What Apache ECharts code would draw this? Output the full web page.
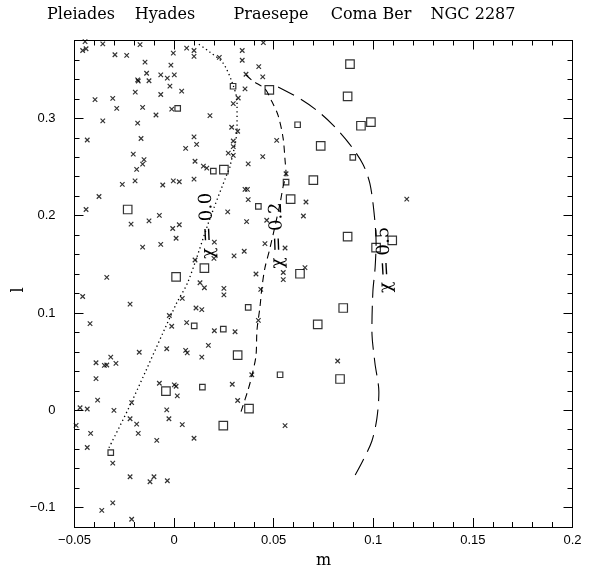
<!DOCTYPE html>
<html>
<head>
<meta charset="utf-8">
<script src="https://cdn.jsdelivr.net/npm/echarts@6/dist/echarts.min.js"></script>
<style>html,body{margin:0;padding:0;background:#fff}#c{width:597px;height:574px}</style>
</head>
<body>
<div id="c"></div>
<script>
// ---- data ----
const clusterNames = ['Pleiades', 'Hyades', 'Praesepe', 'Coma Ber', 'NGC 2287'];
const xTicks = [-0.05, 0, 0.05, 0.1, 0.15, 0.2];
const yTicks = [-0.1, 0, 0.1, 0.2, 0.3];

const crossM = [-0.0447,-0.0459,-0.0442,-0.0358,-0.0171,-0.0297,-0.0238,-0.0004,0.0063,0.0100,0.0100,0.0227,0.0342,0.0342,-0.0146,-0.0016,-0.0138,-0.0067,-0.0034,0.0001,-0.0183,-0.0180,-0.0126,0.0361,-0.0021,0.0356,-0.0195,-0.0067,0.0038,0.0322,-0.0397,-0.0308,-0.0288,-0.0158,-0.0012,0.0297,-0.0358,-0.0091,0.0180,-0.0183,0.0289,0.0319,-0.0436,-0.0166,0.0100,0.0113,0.0058,0.0297,0.0297,-0.0205,-0.0151,-0.0158,-0.0188,0.0105,0.0147,0.0164,0.0272,0.0297,0.0372,-0.0260,-0.0196,-0.0057,-0.0004,0.0026,0.0100,0.0356,0.0368,0.0372,-0.0377,-0.0442,-0.0074,-0.0216,-0.0126,-0.0007,0.0026,0.0269,0.0364,0.0010,-0.0158,-0.0067,0.0202,0.0105,0.0200,0.0301,0.0352,-0.0338,0.0130,0.0152,0.0250,0.0250,-0.0459,-0.0221,0.0041,0.0110,0.0139,-0.0024,-0.0012,0.0063,0.0202,0.0306,-0.0422,-0.0175,-0.0037,0.0058,0.0066,0.0172,0.0139,-0.0392,-0.0318,-0.0350,-0.0338,-0.0292,-0.0392,-0.0074,0.0001,0.0010,0.0016,0.0292,-0.0384,-0.0472,-0.0436,-0.0213,-0.0302,-0.0037,-0.0026,-0.0221,-0.0188,0.0041,0.0319,-0.0492,-0.0419,-0.0180,-0.0087,0.0100,-0.0436,-0.0308,-0.0221,-0.0121,-0.0101,-0.0034,-0.0363,-0.0308,-0.0213,0.0448,0.0425,0.0445,0.0515,0.0445,0.0562,0.0662,0.0649,0.0465,0.1168,0.0456,0.0557,0.0411,0.0548,0.0548,0.0657,0.0435,0.0423,0.0390,0.0557,0.0821];
const crossL = [0.3788,0.3697,0.3715,0.3765,0.3758,0.3654,0.3647,0.3671,0.3722,0.3697,0.3637,0.3627,0.3697,0.3597,0.3577,0.3547,0.3463,0.3446,0.3413,0.3446,0.3396,0.3384,0.3386,0.3453,0.3331,0.3303,0.3269,0.3245,0.3280,0.3209,0.3192,0.3205,0.3102,0.3112,0.3095,0.3152,0.2974,0.3034,0.3028,0.2951,0.2908,0.2867,0.2777,0.2793,0.2810,0.2733,0.2692,0.2767,0.2710,0.2632,0.2576,0.2529,0.2475,0.2559,0.2509,0.2488,0.2642,0.2619,0.2532,0.2321,0.2358,0.2315,0.2358,0.2348,0.2375,0.2270,0.2270,0.2164,0.2197,0.2063,0.2003,0.1913,0.1946,0.1868,0.1906,0.2039,0.1939,0.1768,0.1677,0.1705,0.1728,0.1544,0.1561,0.1587,0.1634,0.1366,0.1310,0.1259,0.1252,0.1185,0.1169,0.1091,0.1149,0.1051,0.1034,0.0974,0.0863,0.0900,0.0817,0.0807,0.0890,0.0596,0.0632,0.0616,0.0589,0.0666,0.0546,0.0488,0.0546,0.0461,0.0465,0.0481,0.0325,0.0277,0.0260,0.0247,0.0147,0.0267,0.0104,0.0026,0.0013,0.0079,-0.0001,0.0003,-0.0087,-0.0087,-0.0142,-0.0148,0.0100,-0.0155,-0.0238,-0.0238,-0.0309,-0.0288,-0.0383,-0.0544,-0.0684,-0.0735,-0.0684,-0.0725,-0.1029,-0.0952,-0.1120,0.3778,0.3531,0.3426,0.2773,0.2606,0.2431,0.2140,0.1996,0.1953,0.2170,0.1712,0.1667,0.1400,0.1416,0.1343,0.1466,0.1242,0.0924,0.0365,-0.0158,0.0506];

const bigSquareM = [0.0250,-0.0233,0.0152,0.0010,0.0319,-0.0041,0.0247,0.0376,0.0478,0.0883,0.0871,0.0938,0.0988,0.0736,0.0699,0.0585,0.0871,0.1095,0.1014,0.0632,0.0849,0.0721,0.0833];
const bigSquareL = [0.2472,0.2063,0.1460,0.1370,0.0566,0.0197,-0.0158,0.0016,0.3292,0.3557,0.3225,0.2924,0.2961,0.2717,0.2365,0.2170,0.1785,0.1745,0.1671,0.1403,0.1051,0.0883,0.0321];

const smallSquareM = [0.0296,0.0018,0.0197,0.0101,0.0247,0.0142,-0.0318,0.0620,0.0897,0.0562,0.0423,0.0372,0.0532];
const smallSquareL = [0.3330,0.3102,0.2458,0.0867,0.0833,0.0237,-0.0436,0.2934,0.2599,0.2345,0.2096,0.1058,0.0365];

const chi00M = [-0.0327,-0.0213,0.0010,0.0070,0.0180,0.0266,0.0280,0.0316,0.0316,0.0291,0.0245,0.0180,0.0115];
const chi00L = [-0.0386,0.0086,0.1090,0.1320,0.1970,0.2430,0.2500,0.2900,0.3170,0.3370,0.3570,0.3680,0.3775];

const chi02M = [0.0336,0.0371,0.0391,0.0411,0.0416,0.0431,0.0441,0.0456,0.0481,0.0507,0.0532,0.0547,0.0562,0.0557,0.0547,0.0522,0.0491,0.0456,0.0396,0.0346];
const chi02L = [-0.0014,0.0207,0.0358,0.0559,0.0820,0.1061,0.1262,0.1463,0.1664,0.1896,0.2127,0.2297,0.2428,0.2569,0.2800,0.3031,0.3172,0.3303,0.3383,0.3473];

const chi05M = [0.0522,0.0632,0.0717,0.0798,0.0883,0.0948,0.0983,0.1004,0.1014,0.1009,0.0998,0.0993,0.1008,0.1028,0.1018,0.0993,0.0948,0.0898];
const chi05L = [0.3323,0.3202,0.3081,0.2931,0.2730,0.2529,0.2328,0.2026,0.1725,0.1463,0.1222,0.0820,0.0488,0.0187,-0.0084,-0.0316,-0.0517,-0.0708];

const curveLabels = ['χ = 0.0', 'χ = 0.2', 'χ = 0.5'];
const curveLabelAt = [[0.0168, 0.1897], [0.0518, 0.1797], [0.1058, 0.1546]];

// ---- build ----
const zip = (a, b) => a.map((v, i) => [v, b[i]]);
const fmt = v => { const r = +(+v).toFixed(3); return r < 0 ? '\u2212' + String(-r) : String(r); };
const serif = 'DejaVu Serif';
const sans = 'Liberation Sans';

const chart = echarts.init(document.getElementById('c'), null, { renderer: 'canvas' });

const tickStyle = { color: '#000', width: 1 };
const baseX = {
  type: 'value', min: -0.05, max: 0.2, interval: 0.05,
  axisLine: { show: true, onZero: false, lineStyle: { color: '#000', width: 1 } },
  axisTick: { show: true, inside: true, length: 9, lineStyle: tickStyle },
  minorTick: { show: true, splitNumber: 5, length: 5, lineStyle: tickStyle },
  splitLine: { show: false }, minorSplitLine: { show: false }
};
const baseY = {
  type: 'value', min: -0.12, max: 0.38,
  axisLine: { show: true, onZero: false, lineStyle: { color: '#000', width: 1 } },
  splitLine: { show: false }
};
const minorY = side => Object.assign({}, baseY, {
  position: side, interval: 0.02,
  axisLine: { show: false, onZero: false },
  axisTick: { show: true, inside: true, length: 5, lineStyle: tickStyle },
  axisLabel: { show: false }
});

const option = {
  animation: false,
  backgroundColor: '#fff',
  grid: { left: 74.5, right: 24.5, top: 40.5, bottom: 36, containLabel: false },
  xAxis: [
    Object.assign({}, baseX, {
      position: 'bottom',
      name: 'm', nameLocation: 'middle', nameGap: 26,
      nameTextStyle: { fontFamily: serif, fontSize: 16, color: '#000' },
      axisLabel: { show: true, margin: 7, formatter: fmt, fontFamily: sans, fontSize: 13, color: '#000' }
    }),
    Object.assign({}, baseX, { position: 'top', axisLabel: { show: false } })
  ],
  yAxis: [
    Object.assign({}, baseY, {
      position: 'left',
      axisTick: { show: true, inside: true, length: 9, customValues: yTicks, lineStyle: tickStyle },
      axisLabel: { show: true, margin: 19, customValues: yTicks, formatter: fmt, fontFamily: sans, fontSize: 13, color: '#000' }
    }),
    minorY('left'),
    Object.assign({}, baseY, {
      position: 'right',
      axisTick: { show: true, inside: true, length: 9, customValues: yTicks, lineStyle: tickStyle },
      axisLabel: { show: false, customValues: yTicks }
    }),
    minorY('right')
  ],
  series: [
    {
      type: 'line', data: zip(chi00M, chi00L), smooth: 0.3, symbol: 'none', silent: true,
      lineStyle: { color: '#000', width: 1.3, type: [1.3, 3] }
    },
    {
      type: 'line', data: zip(chi02M, chi02L), smooth: 0.3, symbol: 'none', silent: true,
      lineStyle: { color: '#000', width: 1.1, type: [7, 5] }
    },
    {
      type: 'line', data: zip(chi05M, chi05L), smooth: 0.3, symbol: 'none', silent: true,
      lineStyle: { color: '#000', width: 1.1, type: [18, 8] }
    },
    {
      type: 'scatter', data: zip(crossM, crossL),
      symbol: 'path://M0 0L10 10M10 0L0 10', symbolSize: 4.5,
      itemStyle: { color: 'rgba(0,0,0,0)', borderColor: '#000', borderWidth: 1.2 }
    },
    {
      type: 'scatter', data: zip(bigSquareM, bigSquareL),
      symbol: 'rect', symbolSize: 8.5,
      itemStyle: { color: 'rgba(0,0,0,0)', borderColor: '#000', borderWidth: 1.2 }
    },
    {
      type: 'scatter', data: zip(smallSquareM, smallSquareL),
      symbol: 'rect', symbolSize: 5.5,
      itemStyle: { color: 'rgba(0,0,0,0)', borderColor: '#000', borderWidth: 1.2 }
    }
  ]
};
chart.setOption(option);

// headings, y-axis name and curve labels
const headingX = [81, 165, 271, 371, 473];
const graphics = clusterNames.map((t, i) => ({
  type: 'text', x: headingX[i], y: 15,
  style: { text: t, fontFamily: serif, fontSize: 16, fill: '#000', align: 'center', verticalAlign: 'middle' }
}));
graphics.push({
  type: 'text', x: 19, y: 290, rotation: Math.PI / 2,
  style: { text: 'l', fontFamily: serif, fontSize: 16, fill: '#000', align: 'center', verticalAlign: 'middle' }
});
const rots = [92.6, 92, 93];
curveLabels.forEach((t, i) => {
  const p = chart.convertToPixel({ xAxisIndex: 0, yAxisIndex: 0 }, curveLabelAt[i]);
  graphics.push({
    type: 'text', x: p[0], y: p[1], rotation: rots[i] * Math.PI / 180,
    style: { text: t, fontFamily: serif, fontSize: 18, fill: '#000', align: 'center', verticalAlign: 'middle' }
  });
});
chart.setOption({ graphic: graphics });
</script>
</body>
</html>
